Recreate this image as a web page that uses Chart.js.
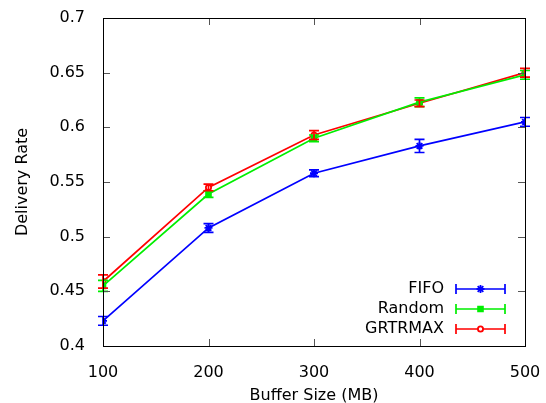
<!DOCTYPE html>
<html>
<head>
<meta charset="utf-8">
<script src="https://cdn.jsdelivr.net/npm/chart.js@4/dist/chart.umd.min.js"></script>
<style>
  html, body { margin: 0; padding: 0; background: #fff; }
  #wrap { width: 546px; height: 403px; }
</style>
</head>
<body>
<div id="wrap"><canvas id="chart" width="546" height="403"></canvas></div>
<script>
// data
const bufferSizes = [100, 200, 300, 400, 500];
const fifo = [0.423, 0.508, 0.558, 0.583, 0.605];
const fifoErr = [0.004, 0.004, 0.003, 0.006, 0.004];
const random = [0.455, 0.539, 0.590, 0.623, 0.648];
const randomErr = [0.005, 0.003, 0.003, 0.004, 0.004];
const grtrmax = [0.459, 0.545, 0.593, 0.622, 0.650];
const grtrmaxErr = [0.006, 0.003, 0.004, 0.003, 0.004];
const yTicks = [0.4, 0.45, 0.5, 0.55, 0.6, 0.65, 0.7];

const FONT = "'DejaVu Sans', sans-serif";

function makeSet(label, vals, errs, color, style) {
    return {
        label: label,
        data: bufferSizes.map((x, i) => ({ x: x, y: vals[i] })),
        errors: errs,
        borderColor: color,
        backgroundColor: style === 'circle' ? '#fff' : color,
        borderWidth: 1.7,
        pointStyle: style,
        pointRadius: style === 'circle' ? 2.6 : (style === 'star' ? 4 : 3.4),
        pointBorderWidth: 1.8,
        pointBorderColor: color,
        tension: 0,
        fill: false
    };
}

// error bars, inward ticks and the gnuplot style key
const extras = {
    id: 'extras',
    afterDatasetsDraw(chart) {
        const ctx = chart.ctx;
        const xs = chart.scales.x, ys = chart.scales.y;
        const a = chart.chartArea;
        ctx.save();
        chart.data.datasets.forEach(ds => {
            ctx.strokeStyle = ds.borderColor;
            ctx.lineWidth = 1.7;
            ds.data.forEach((p, i) => {
                const px = xs.getPixelForValue(p.x);
                const top = ys.getPixelForValue(p.y + ds.errors[i]);
                const bot = ys.getPixelForValue(p.y - ds.errors[i]);
                ctx.beginPath();
                ctx.moveTo(px, top); ctx.lineTo(px, bot);
                ctx.moveTo(px - 5, top); ctx.lineTo(px + 5, top);
                ctx.moveTo(px - 5, bot); ctx.lineTo(px + 5, bot);
                ctx.stroke();
            });
        });

        // ticks pointing inward on all four sides
        ctx.strokeStyle = '#555';
        ctx.lineWidth = 1;
        ctx.beginPath();
        yTicks.forEach(v => {
            const py = Math.round(ys.getPixelForValue(v)) + 0.5;
            ctx.moveTo(a.left, py); ctx.lineTo(a.left + 7, py);
            ctx.moveTo(a.right, py); ctx.lineTo(a.right - 7, py);
        });
        bufferSizes.forEach(v => {
            const px = Math.round(xs.getPixelForValue(v)) + 0.5;
            ctx.moveTo(px, a.bottom); ctx.lineTo(px, a.bottom - 7);
            ctx.moveTo(px, a.top); ctx.lineTo(px, a.top + 7);
        });
        ctx.stroke();

        // frame
        ctx.strokeStyle = '#000';
        ctx.strokeRect(Math.round(a.left) + 0.5, Math.round(a.top) + 0.5,
            Math.round(a.right - a.left), Math.round(a.bottom - a.top));

        // key
        ctx.font = '16px ' + FONT;
        ctx.textAlign = 'right';
        ctx.textBaseline = 'middle';
        chart.data.datasets.forEach((ds, i) => {
            const ky = a.bottom - 57 + i * 20;
            const kx = a.right - 81;
            ctx.fillStyle = '#000';
            ctx.fillText(ds.label, kx, ky);
            const x0 = kx + 12, x1 = kx + 61;
            ctx.strokeStyle = ds.borderColor;
            ctx.lineWidth = 1.7;
            ctx.beginPath();
            ctx.moveTo(x0, ky); ctx.lineTo(x1, ky);
            ctx.moveTo(x0, ky - 5); ctx.lineTo(x0, ky + 5);
            ctx.moveTo(x1, ky - 5); ctx.lineTo(x1, ky + 5);
            ctx.stroke();
            ctx.fillStyle = ds.backgroundColor;
            ctx.lineWidth = ds.pointBorderWidth;
            Chart.helpers.drawPoint(ctx, {
                pointStyle: ds.pointStyle,
                radius: ds.pointRadius,
                borderWidth: ds.pointBorderWidth
            }, (x0 + x1) / 2, ky);
        });
        ctx.restore();
    }
};

new Chart(document.getElementById('chart'), {
    type: 'line',
    data: {
        datasets: [
            makeSet('FIFO', fifo, fifoErr, '#0000ff', 'star'),
            makeSet('Random', random, randomErr, '#00ee00', 'rect'),
            makeSet('GRTRMAX', grtrmax, grtrmaxErr, '#ff0000', 'circle')
        ]
    },
    options: {
        responsive: false,
        animation: false,
        layout: { padding: { top: 18, right: 21, left: 13, bottom: 0 } },
        plugins: {
            legend: { display: false },
            tooltip: { enabled: false }
        },
        scales: {
            x: {
                type: 'linear',
                min: 100, max: 500,
                afterBuildTicks: s => { s.ticks = bufferSizes.map(v => ({ value: v })); },
                afterFit: s => { s.height = 57; s.paddingLeft = 0; s.paddingRight = 0; },
                grid: { display: false },
                border: { display: false },
                ticks: { color: '#000', font: { family: FONT, size: 16 }, padding: 9, maxRotation: 0 },
                title: { display: true, text: 'Buffer Size (MB)', color: '#000', font: { family: FONT, size: 16 }, padding: { top: 0, bottom: -2 } }
            },
            y: {
                min: 0.4, max: 0.7,
                afterBuildTicks: s => { s.ticks = yTicks.map(v => ({ value: v })); },
                afterFit: s => { s.width = 90; s.paddingTop = 0; s.paddingBottom = 0; },
                grid: { display: false },
                border: { display: false },
                ticks: { color: '#000', font: { family: FONT, size: 16 }, padding: 10, callback: v => String(+v.toFixed(2)) },
                title: { display: true, text: 'Delivery Rate', color: '#000', font: { family: FONT, size: 16 }, padding: { top: 0, bottom: 0 } }
            }
        }
    },
    plugins: [extras]
});
</script>
</body>
</html>
